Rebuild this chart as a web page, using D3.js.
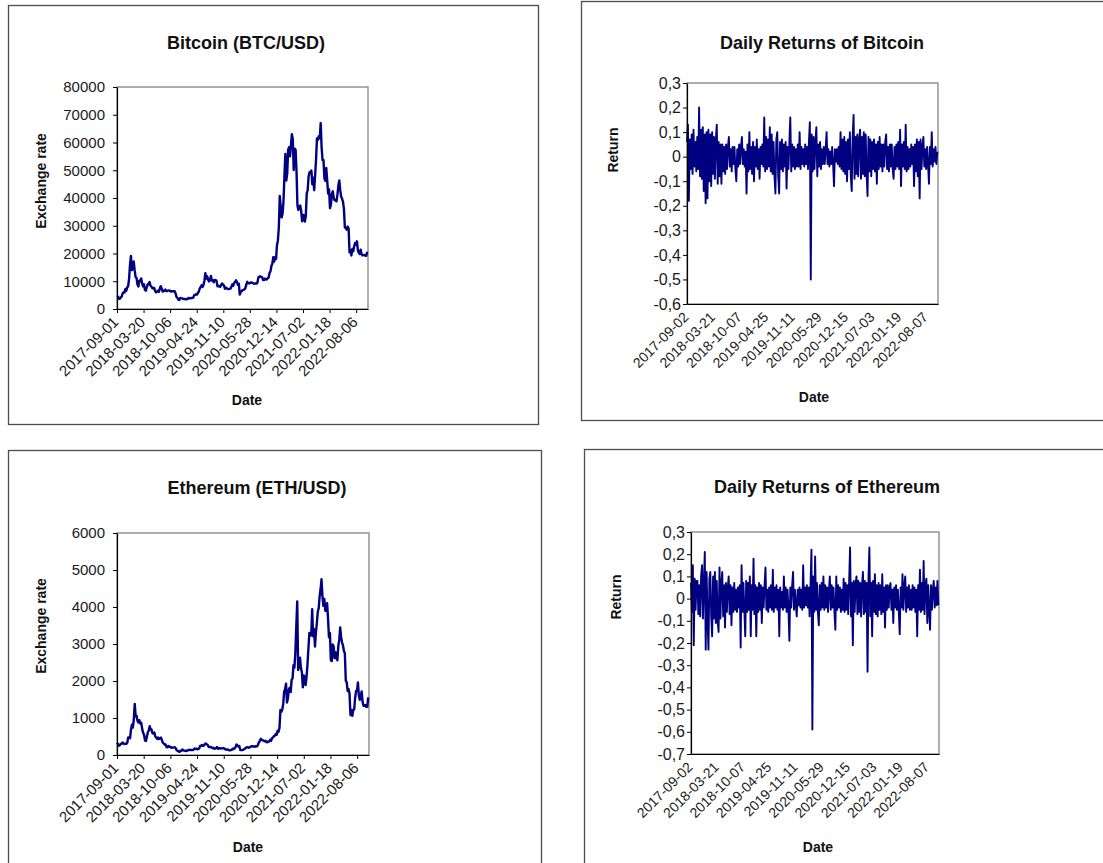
<!DOCTYPE html>
<html>
<head>
<meta charset="utf-8">
<script src="https://cdn.jsdelivr.net/npm/d3@7"></script>
<style>
  html, body { margin: 0; padding: 0; background: #fff; }
  svg { display: block; font-family: "Liberation Sans", Arial, sans-serif; }
</style>
</head>
<body>
<script>
// ---- Weekly samples (every 7 days) of the closing exchange rates, in USD ----
const priceStart = "2017-09-01";
const returnStart = "2017-09-02";
const axisEnd = "2022-11-03";
const sampleStepDays = 7;

const btcPrice = [
  4300, 4500, 3700, 3700, 4200, 4400, 5600, 6000, 5900, 7200, 6600, 7800, 8200, 10900, 16000, 19100, 14000, 14600,
  17100, 13900, 11500, 11200, 8800, 8100, 10200, 10000, 11000, 9200, 8200, 8900, 6900, 6600, 7900, 8900, 8900, 9700,
  8400, 8100, 7500, 7500, 7600, 6500, 6000, 6200, 6600, 6200, 7300, 8200, 7400, 6300, 6400, 6700, 7000, 6500,
  6500, 6700, 6600, 6600, 6300, 6400, 6400, 6400, 6400, 5600, 4300, 4000, 3400, 3250, 4000, 3900,
  3850, 3650, 3600, 3580, 3500, 3650, 3620, 3990, 3820, 3880, 3950, 4000, 4100, 5000, 5100, 5300, 5200, 5800,
  6300, 7400, 8000, 8600, 7900, 8700, 10200, 12900, 11000, 11800, 10500, 9900, 10500, 11900, 10300, 10400, 9600, 10500,
  10400, 10200, 8200, 8200, 8300, 7950, 8650, 9200, 8800, 8500, 7300, 7700, 7500, 7200, 7150, 7250,
  7350, 8000, 8900, 8400, 9350, 9800, 10350, 9700, 8700, 9100, 5200, 6200, 6400, 6800, 6900, 7100, 7500, 8800,
  9800, 9300, 9200, 9400, 9600, 9450, 9400, 9150, 9100, 9250, 9150, 9550, 11350, 11600, 11800, 11600, 11500, 10500,
  10400, 10950, 10700, 10600, 11050, 11350, 13000, 13550, 15500, 16300, 18700, 17100, 18700, 18050, 23000, 24700,
  29400, 40700, 36800, 33000, 34300, 38900, 47900, 55900, 46300, 48800, 57300, 58300, 55000, 58900, 63000, 61300, 50100, 57800,
  57400, 49700, 37300, 35700, 36900, 37300, 35500, 31600, 33900, 33800, 31500, 33600, 41600, 42800, 47800, 49300, 49000, 49900,
  44900, 47300, 42800, 48100, 53800, 61500, 61000, 62300, 61500, 67000, 58100, 53600, 53700, 47100, 46200, 50800, 46300,
  41600, 43100, 36300, 37700, 41500, 42400, 40000, 39200, 39100, 38800, 41200, 44500, 46300, 42800, 40500, 39700, 38600, 36000,
  29300, 29200, 28600, 29700, 29100, 20400, 21200, 19300, 21600, 20800, 22600, 23800, 23200, 24400, 21100, 20200, 19800, 21400,
  19700, 19300, 19400, 19500, 19200, 19200, 20600
];

const ethPrice = [
  330, 300, 250, 265, 300, 310, 340, 305, 297, 305, 300, 330, 475, 465, 455, 690, 820, 740,
  960, 1380, 1040, 1060, 915, 880, 940, 850, 870, 700, 600, 540, 390, 380, 490, 615, 660, 780,
  680, 690, 590, 580, 605, 500, 470, 435, 475, 435, 450, 470, 410, 335, 315, 280, 285, 215,
  210, 245, 220, 225, 195, 205, 200, 205, 210, 175, 125, 115, 95, 85, 115, 115,
  150, 125, 120, 115, 105, 120, 122, 145, 135, 137, 138, 136, 142, 175, 165, 173, 155, 160,
  175, 245, 250, 270, 245, 255, 295, 310, 290, 275, 220, 210, 220, 210, 185, 195, 170, 175,
  180, 215, 170, 175, 190, 172, 180, 182, 185, 180, 150, 152, 148, 144, 128, 127,
  134, 144, 170, 162, 183, 222, 284, 260, 226, 244, 133, 132, 131, 141, 158, 172, 187, 214,
  212, 194, 208, 220, 240, 237, 230, 230, 225, 241, 233, 278, 346, 379, 437, 415, 396, 386,
  373, 384, 351, 346, 365, 366, 413, 383, 455, 475, 509, 518, 570, 545, 655, 626,
  730, 1220, 1170, 1230, 1380, 1720, 1780, 1930, 1420, 1530, 1770, 1820, 1700, 2030, 2070, 2430, 2360, 2770,
  3480, 4150, 2300, 2420, 2630, 2350, 2230, 1830, 2150, 2110, 1890, 2120, 2460, 2890, 3300, 3280, 3230, 3940,
  3210, 3400, 2930, 3310, 3560, 3870, 3970, 4290, 4480, 4750, 4300, 4030, 4220, 3900, 3900, 4100, 3680,
  3180, 3300, 2560, 2540, 2990, 2930, 2620, 2780, 2620, 2560, 2950, 3110, 3450, 3190, 3040, 2960, 2810, 2750,
  2010, 1960, 1730, 1780, 1660, 1080, 1220, 1060, 1220, 1230, 1540, 1730, 1730, 1960, 1610, 1490, 1580, 1720,
  1430, 1330, 1330, 1350, 1300, 1300, 1560
];

// ---- Daily returns, one value per week of the sample ----
const btcReturn = [
  0.06, 0.13, -0.18, 0.07, -0.05, 0.09, -0.07, 0.11, -0.04, 0.06,
  -0.06, 0.08, -0.05, 0.20, -0.08, 0.11, -0.09, 0.12, -0.14, 0.09,
  -0.19, 0.10, -0.17, 0.11, -0.10, 0.09, -0.12, 0.10, -0.07, 0.08,
  -0.09, 0.07, 0.13, -0.11, 0.06, -0.08, 0.05, -0.11, 0.05, -0.06,
  0.04, -0.07, 0.05, -0.05, 0.04, 0.08, -0.04, 0.03, -0.06, 0.04,
  -0.03, 0.04, -0.05, -0.10, 0.03, -0.04, 0.05, -0.03, 0.04, 0.08,
  -0.03, 0.03, -0.04, 0.02, -0.15, 0.05, -0.06, 0.10, -0.05, 0.04,
  -0.07, 0.06, -0.10, 0.04, -0.04, 0.07, -0.05, 0.03, -0.09, 0.04,
  -0.03, 0.05, -0.04, 0.16, -0.06, 0.08, -0.05, 0.07, -0.04, 0.12,
  -0.06, 0.09, -0.07, 0.06, -0.08, -0.15, 0.07, 0.10, -0.08, -0.15,
  0.06, -0.05, 0.07, -0.06, 0.05, -0.04, 0.06, -0.13, 0.04, -0.05,
  0.06, 0.16, -0.06, 0.05, -0.04, 0.04, -0.05, 0.03, -0.04, 0.05,
  -0.04, 0.10, -0.05, 0.04, -0.03, 0.03, -0.04, 0.05, -0.03, 0.04,
  -0.05, 0.06, 0.14, -0.50, 0.09, -0.06, 0.08, -0.05, 0.06, 0.12,
  -0.08, 0.05, -0.04, 0.06, -0.05, 0.03, -0.03, 0.04, -0.03, 0.03,
  0.10, -0.03, 0.03, -0.04, 0.02, -0.03, 0.04, -0.03, -0.12, 0.03,
  -0.02, 0.03, -0.03, 0.04, -0.04, 0.10, -0.05, 0.07, -0.06, 0.08,
  -0.07, 0.06, -0.10, 0.07, -0.05, 0.10, -0.08, -0.14, 0.08, 0.17,
  -0.09, 0.08, -0.07, 0.09, -0.08, 0.07, 0.11, -0.09, 0.08, -0.07,
  0.10, -0.08, 0.09, -0.07, -0.16, 0.08, -0.06, 0.07, -0.08, 0.06,
  -0.05, 0.07, -0.06, 0.05, -0.11, 0.06, -0.05, 0.08, -0.04, 0.05,
  -0.06, 0.05, -0.04, 0.06, 0.09, -0.05, 0.04, -0.06, 0.05, -0.04,
  0.05, -0.05, -0.09, 0.04, -0.05, 0.05, -0.04, 0.06, -0.05, 0.11,
  -0.12, 0.05, -0.04, 0.06, -0.05, 0.13, -0.06, 0.04, -0.05, 0.03,
  -0.04, 0.05, -0.03, 0.04, -0.12, 0.05, -0.06, 0.07, -0.08, 0.06,
  -0.17, 0.07, -0.05, 0.04, 0.08, -0.04, 0.03, -0.05, 0.04, -0.03,
  -0.11, 0.04, -0.03, 0.10, -0.04, 0.03, -0.02, 0.04, -0.03, 0.02
];

const ethReturn = [
  0.07, -0.06, 0.15, -0.21, 0.09, -0.05, 0.08, 0.08, -0.07, 0.06,
  -0.08, 0.10, 0.15, -0.09, 0.07, 0.21, -0.23, 0.12, -0.10, -0.23,
  0.09, 0.12, -0.08, -0.17, 0.10, -0.09, 0.12, -0.11, 0.08, -0.10,
  -0.15, 0.14, -0.09, 0.07, 0.12, -0.08, 0.06, -0.13, 0.07, -0.06,
  0.05, 0.10, -0.07, 0.06, -0.12, 0.05, -0.06, 0.07, -0.05, 0.04,
  -0.06, 0.05, -0.04, 0.06, -0.22, 0.15, -0.06, 0.07, -0.05, -0.17,
  0.08, -0.06, 0.07, -0.05, 0.10, -0.17, 0.06, -0.05, 0.18, -0.07,
  0.06, -0.17, 0.05, -0.06, 0.07, -0.05, 0.06, -0.11, 0.05, -0.04,
  0.06, 0.14, -0.05, 0.04, -0.06, 0.05, -0.04, 0.06, -0.05, 0.13,
  -0.06, 0.05, -0.04, 0.06, -0.05, 0.04, -0.17, 0.05, -0.04, 0.03,
  -0.05, 0.10, -0.04, 0.05, -0.06, 0.04, -0.05, -0.19, 0.05, -0.04,
  0.06, 0.12, -0.05, 0.04, -0.03, -0.08, 0.04, -0.03, 0.05, -0.04,
  0.04, -0.05, 0.15, -0.04, 0.05, -0.03, 0.06, -0.04, 0.05, -0.08,
  0.06, 0.22, -0.59, 0.10, -0.06, 0.19, -0.05, 0.07, -0.06, -0.12,
  0.06, -0.05, 0.07, -0.04, 0.10, -0.05, 0.06, -0.04, 0.05, -0.06,
  0.04, 0.10, -0.05, 0.06, -0.04, 0.05, -0.06, -0.14, 0.10, -0.05,
  0.06, -0.04, 0.05, -0.06, 0.04, -0.05, 0.09, -0.06, 0.07, -0.05,
  0.06, -0.07, 0.08, 0.23, -0.08, 0.07, -0.21, 0.08, -0.06, 0.07,
  0.10, -0.07, 0.08, -0.06, 0.07, -0.08, 0.06, 0.12, -0.07, 0.08,
  -0.06, 0.07, -0.33, 0.09, 0.23, -0.08, 0.07, -0.17, 0.08, -0.06,
  0.11, -0.07, 0.06, -0.08, 0.07, -0.05, 0.06, -0.07, 0.11, -0.06,
  0.05, -0.13, 0.06, -0.05, 0.06, -0.04, 0.05, 0.07, -0.05, 0.04,
  -0.11, 0.05, -0.04, 0.06, -0.05, 0.04, -0.06, -0.16, 0.05, -0.04,
  0.11, -0.05, 0.06, 0.10, -0.06, 0.05, -0.04, 0.06, -0.05, 0.04,
  -0.05, 0.06, -0.04, 0.05, -0.06, 0.04, -0.17, 0.06, -0.05, 0.13,
  -0.06, 0.07, -0.05, 0.17, -0.07, 0.06, 0.09, -0.11, 0.06, -0.05,
  -0.14, 0.06, -0.05, 0.04, 0.08, -0.04, 0.05, -0.03, 0.08, -0.03
];

// ---- Axis ticks ----
const priceDateTicks = ["2017-09-01", "2018-03-20", "2018-10-06", "2019-04-24", "2019-11-10",
                        "2020-05-28", "2020-12-14", "2021-07-02", "2022-01-18", "2022-08-06"];
const returnDateTicks = ["2017-09-02", "2018-03-21", "2018-10-07", "2019-04-25", "2019-11-11",
                         "2020-05-29", "2020-12-15", "2021-07-03", "2022-01-19", "2022-08-07"];
const btcPriceTicks = [0, 10000, 20000, 30000, 40000, 50000, 60000, 70000, 80000];
const ethPriceTicks = [0, 1000, 2000, 3000, 4000, 5000, 6000];
const btcReturnTicks = [0.3, 0.2, 0.1, 0, -0.1, -0.2, -0.3, -0.4, -0.5, -0.6];
const ethReturnTicks = [0.3, 0.2, 0.1, 0, -0.1, -0.2, -0.3, -0.4, -0.5, -0.6, -0.7];

// ---- Drawing ----
const W = 1103, H = 863;
const LINE = "#000080";
const parse = d3.utcParse("%Y-%m-%d");
const fmtDate = d3.utcFormat("%Y-%m-%d");
const commaLocale = d3.formatLocale({ decimal: ",", thousands: ".", grouping: [3], currency: ["", ""], minus: "-" });
const fmtReturn = v => (Math.abs(v) < 1e-9 ? "0" : commaLocale.format(".1f")(v));
const fmtPrice = d3.format("d");

const svg = d3.select("body").append("svg").attr("width", W).attr("height", H);

const panels = [
  { frame: [8, 5, 530, 419], plot: [117, 368, 87, 309],
    title: "Bitcoin (BTC/USD)", titlePos: [246, 49],
    yTitle: "Exchange rate", yTitlePos: [46, 181], xTitlePos: [247, 405],
    values: btcPrice, start: priceStart, yTicks: btcPriceTicks, fmt: fmtPrice,
    dateTicks: priceDateTicks, xTickSize: 4, yFont: 15, xFont: 15, yPad: 8, lineWidth: 2.4 },
  { frame: [581, 1, 540, 419], plot: [687, 938, 83, 304],
    title: "Daily Returns of Bitcoin", titlePos: [822, 49],
    yTitle: "Return", yTitlePos: [618, 150], xTitlePos: [814, 402],
    values: btcReturn, start: returnStart, yTicks: btcReturnTicks, fmt: fmtReturn,
    dateTicks: returnDateTicks, xTickSize: 0, yFont: 16, xFont: 14, yPad: 2, lineWidth: 1.9 },
  { frame: [8, 450, 533, 430], plot: [117, 369, 533, 755],
    title: "Ethereum (ETH/USD)", titlePos: [257, 494],
    yTitle: "Exchange rate", yTitlePos: [46, 626], xTitlePos: [248, 852],
    values: ethPrice, start: priceStart, yTicks: ethPriceTicks, fmt: fmtPrice,
    dateTicks: priceDateTicks, xTickSize: 4, yFont: 15, xFont: 15, yPad: 8, lineWidth: 2.4 },
  { frame: [584, 449, 540, 430], plot: [691, 939, 532, 754],
    title: "Daily Returns of Ethereum", titlePos: [827, 493],
    yTitle: "Return", yTitlePos: [621, 597], xTitlePos: [818, 852],
    values: ethReturn, start: returnStart, yTicks: ethReturnTicks, fmt: fmtReturn,
    dateTicks: returnDateTicks, xTickSize: 0, yFont: 16, xFont: 14, yPad: 2, lineWidth: 1.9 }
];

panels.forEach(p => {
  const g = svg.append("g");
  const [fx, fy, fw, fh] = p.frame;
  const [x0, x1, y0, y1] = p.plot;

  // chart frame
  g.append("rect").attr("x", fx + 0.5).attr("y", fy + 0.5).attr("width", fw).attr("height", fh)
    .attr("fill", "#fff").attr("stroke", "#4d4d4d").attr("stroke-width", 1.3);

  const start = parse(p.start);
  const x = d3.scaleUtc().domain([start, parse(axisEnd)]).range([x0, x1]);
  const y = d3.scaleLinear().domain(d3.extent(p.yTicks)).range([y1, y0]);

  // plot area border
  g.append("rect").attr("x", x0).attr("y", y0).attr("width", x1 - x0).attr("height", y1 - y0)
    .attr("fill", "none").attr("stroke", "#8c8c8c").attr("stroke-width", 1.4);

  // series
  const line = d3.line()
    .x((d, i) => x(d3.utcDay.offset(start, i * sampleStepDays)))
    .y(d => y(d));
  g.append("path").datum(p.values).attr("d", line)
    .attr("fill", "none").attr("stroke", LINE).attr("stroke-width", p.lineWidth)
    .attr("stroke-linejoin", "round");

  // y axis
  const ya = g.append("g").attr("transform", `translate(${x0},0)`)
    .call(d3.axisLeft(y).tickValues(p.yTicks).tickFormat(p.fmt).tickSize(4).tickSizeOuter(0).tickPadding(p.yPad));
  ya.select(".domain").attr("stroke", "#000").attr("stroke-width", 1.2);
  ya.selectAll(".tick line").attr("stroke", "#000");
  ya.selectAll(".tick text").attr("font-size", p.yFont).attr("fill", "#1a1a1a")
    .attr("font-family", "Liberation Sans, Arial, sans-serif");

  // x axis with slanted date labels
  const xa = g.append("g").attr("transform", `translate(0,${y1})`)
    .call(d3.axisBottom(x).tickValues(p.dateTicks.map(parse)).tickFormat(fmtDate)
      .tickSize(p.xTickSize).tickSizeOuter(0));
  xa.select(".domain").attr("stroke", "#000").attr("stroke-width", 1.2);
  xa.selectAll(".tick line").attr("stroke", "#000");
  xa.selectAll(".tick text")
    .attr("x", 0).attr("y", 0).attr("dy", 0)
    .attr("text-anchor", "end")
    .attr("transform", "translate(2,14) rotate(-45)")
    .attr("font-size", p.xFont).attr("fill", "#1a1a1a")
    .attr("font-family", "Liberation Sans, Arial, sans-serif");

  // titles
  g.append("text").attr("x", p.titlePos[0]).attr("y", p.titlePos[1]).attr("text-anchor", "middle")
    .attr("font-size", 18).attr("font-weight", "bold").attr("fill", "#111").text(p.title);
  g.append("text").attr("transform", `translate(${p.yTitlePos[0]},${p.yTitlePos[1]}) rotate(-90)`)
    .attr("text-anchor", "middle").attr("font-size", 14).attr("font-weight", "bold").attr("fill", "#111")
    .text(p.yTitle);
  g.append("text").attr("x", p.xTitlePos[0]).attr("y", p.xTitlePos[1]).attr("text-anchor", "middle")
    .attr("font-size", 14).attr("font-weight", "bold").attr("fill", "#111").text("Date");
});
</script>
</body>
</html>
